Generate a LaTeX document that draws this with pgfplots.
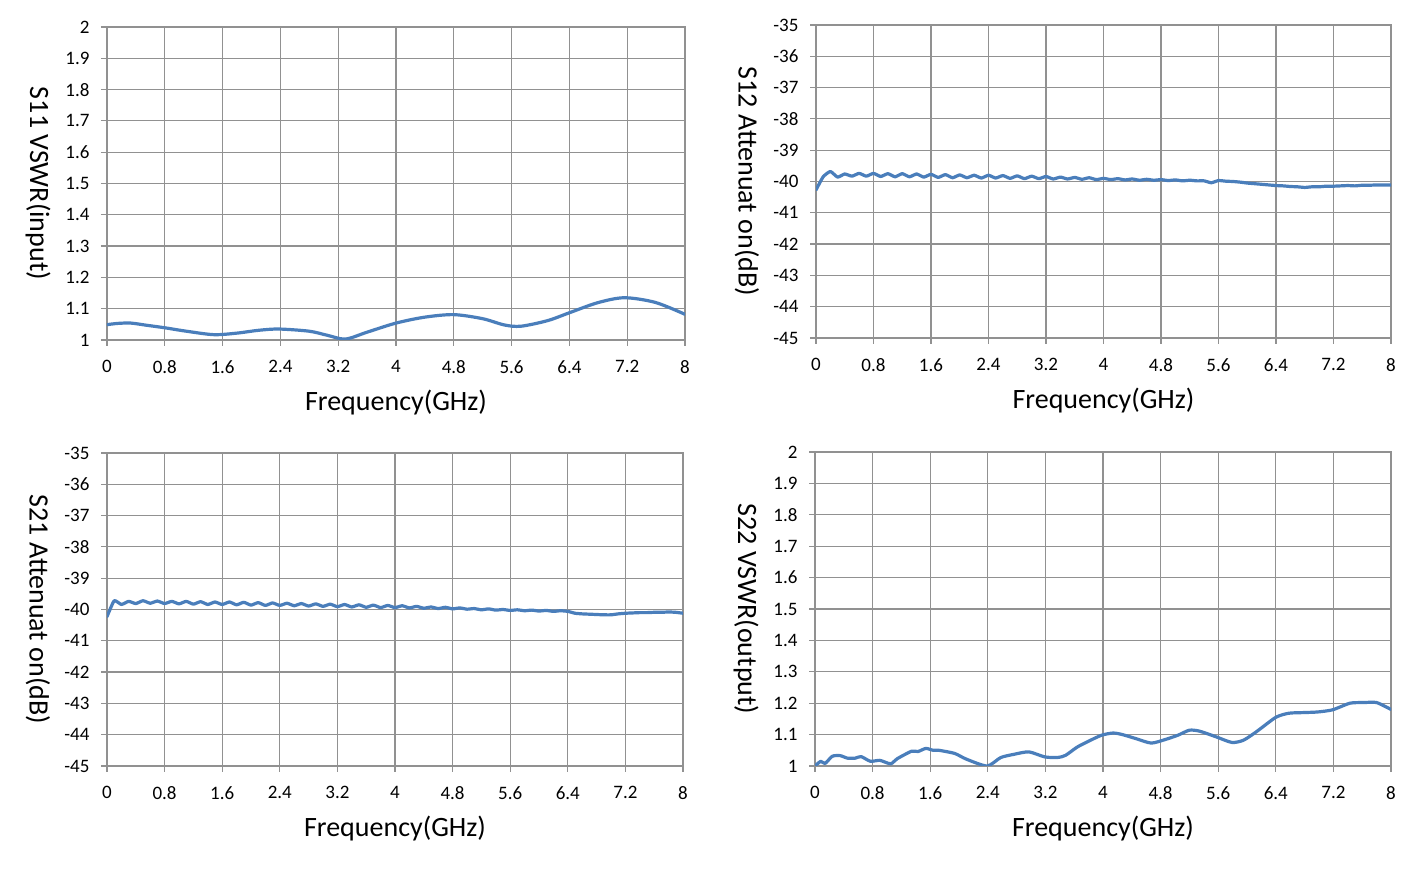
\documentclass[border=0pt]{standalone}
\usepackage{fontspec}
\setmainfont{Carlito}
\usepackage{pgfplots}
\pgfplotsset{compat=1.18}
\definecolor{ser}{RGB}{74,126,187}
\definecolor{gr}{RGB}{145,145,145}
\pgfplotsset{
  myax/.style={
    scale only axis,
    anchor=south west,
    xmin=0, xmax=8,
    xtick={0,0.8,1.6,2.4,3.2,4,4.8,5.6,6.4,7.2,8},
    xticklabels={0,0.8,1.6,2.4,3.2,4,4.8,5.6,6.4,7.2,8},
    grid=major,
    major grid style={gr, line width=1.2pt},
    axis line style={gr, line width=1.2pt},
    tick style={gr, line width=1.2pt},
    tick align=outside,
    major tick length=6pt,
    xtick pos=lower, ytick pos=left,
    ticklabel style={font=\fontsize{19}{20}\selectfont},
    xticklabel style={yshift=-11pt},
    yticklabel style={xshift=-8pt},
    every axis x label/.style={at={(axis description cs:0.5,0)}, anchor=center, yshift=-63pt, font=\fontsize{28}{30}\selectfont},
    every axis y label/.style={at={(axis description cs:0,0.5)}, anchor=center, xshift=-69pt, rotate=-90, font=\fontsize{28}{30}\selectfont},
    xlabel={Frequency(GHz)},
  },
  vswr/.style={ymin=1, ymax=2, ytick={1,1.1,1.2,1.3,1.4,1.5,1.6,1.7,1.8,1.9,2},
    yticklabels={1,1.1,1.2,1.3,1.4,1.5,1.6,1.7,1.8,1.9,2}},
  att/.style={ymin=-45, ymax=-35, ytick={-45,-44,-43,-42,-41,-40,-39,-38,-37,-36,-35},
    yticklabels={-45,-44,-43,-42,-41,-40,-39,-38,-37,-36,-35}},
  curve/.style={ser, line width=3.2pt, line join=round, line cap=round},
}
\begin{document}
\begin{tikzpicture}
\useasboundingbox (0,0) rectangle (1425pt,872pt);
% S11
\begin{axis}[myax, vswr, at={(107pt,532pt)}, width=578pt, height=313pt, ylabel={S11 VSWR(input)}]
\addplot[curve, smooth, tension=0.5] coordinates {
(0,1.049)(0.15,1.053)(0.33,1.054)(0.55,1.047)(0.8,1.039)(1.1,1.028)(1.48,1.017)(1.8,1.022)
(2.1,1.031)(2.38,1.035)(2.8,1.028)(3.05,1.015)(3.3,1.003)(3.6,1.025)(4.0,1.054)
(4.4,1.073)(4.8,1.081)(5.2,1.068)(5.5,1.048)(5.73,1.044)(6.1,1.062)(6.4,1.087)
(6.79,1.119)(7.16,1.135)(7.59,1.120)(8.0,1.082)};
\end{axis}
% S12
\begin{axis}[myax, att, at={(816pt,534pt)}, width=575pt, height=313pt, ylabel={S12 Attenuat on(dB)}]
\addplot[curve, smooth, tension=0.3] coordinates {
(0.0,-40.27)(0.1,-39.85)(0.2,-39.68)(0.3,-39.86)(0.4,-39.76)(0.5,-39.83)(0.6,-39.74)(0.7,-39.83)
(0.8,-39.74)(0.9,-39.84)(1.0,-39.75)(1.1,-39.85)(1.2,-39.75)(1.3,-39.85)(1.4,-39.76)(1.5,-39.86)
(1.6,-39.77)(1.7,-39.87)(1.8,-39.78)(1.9,-39.88)(2.0,-39.79)(2.1,-39.88)(2.2,-39.80)(2.3,-39.89)
(2.4,-39.80)(2.5,-39.89)(2.6,-39.81)(2.7,-39.90)(2.8,-39.82)(2.9,-39.91)(3.0,-39.83)(3.1,-39.91)
(3.2,-39.84)(3.3,-39.92)(3.4,-39.86)(3.5,-39.92)(3.6,-39.87)(3.7,-39.93)(3.8,-39.88)(3.9,-39.94)
(4.0,-39.90)(4.1,-39.94)(4.2,-39.91)(4.3,-39.95)(4.4,-39.92)(4.5,-39.96)(4.6,-39.93)(4.7,-39.96)
(4.8,-39.94)(4.9,-39.97)(5.0,-39.95)(5.1,-39.98)(5.2,-39.96)(5.3,-39.98)(5.4,-39.98)(5.5,-40.04)
(5.6,-39.97)(5.7,-39.99)(5.8,-40.00)(5.9,-40.02)(6.0,-40.05)(6.1,-40.07)(6.2,-40.09)(6.3,-40.11)
(6.4,-40.13)(6.5,-40.14)(6.6,-40.16)(6.7,-40.17)(6.8,-40.19)(6.9,-40.17)(7.0,-40.17)(7.1,-40.15)
(7.2,-40.15)(7.3,-40.14)(7.4,-40.13)(7.5,-40.14)(7.6,-40.12)(7.7,-40.12)(7.8,-40.11)(7.9,-40.11)
(8.0,-40.11)};
\end{axis}
% S21
\begin{axis}[myax, att, at={(107pt,106pt)}, width=576pt, height=313pt, ylabel={S21 Attenuat on(dB)}]
\addplot[curve, smooth, tension=0.3] coordinates {
(0.0,-40.23)(0.1,-39.72)(0.2,-39.84)(0.3,-39.74)(0.4,-39.81)(0.5,-39.72)(0.6,-39.80)(0.7,-39.73)
(0.8,-39.81)(0.9,-39.74)(1.0,-39.82)(1.1,-39.74)(1.2,-39.83)(1.3,-39.75)(1.4,-39.84)(1.5,-39.76)
(1.6,-39.84)(1.7,-39.76)(1.8,-39.85)(1.9,-39.77)(2.0,-39.86)(2.1,-39.78)(2.2,-39.87)(2.3,-39.79)
(2.4,-39.87)(2.5,-39.80)(2.6,-39.88)(2.7,-39.81)(2.8,-39.89)(2.9,-39.82)(3.0,-39.90)(3.1,-39.83)
(3.2,-39.91)(3.3,-39.84)(3.4,-39.92)(3.5,-39.85)(3.6,-39.93)(3.7,-39.86)(3.8,-39.94)(3.9,-39.87)
(4.0,-39.94)(4.1,-39.88)(4.2,-39.95)(4.3,-39.90)(4.4,-39.96)(4.5,-39.92)(4.6,-39.97)(4.7,-39.93)
(4.8,-39.98)(4.9,-39.95)(5.0,-39.99)(5.1,-39.97)(5.2,-40.01)(5.3,-39.98)(5.4,-40.02)(5.5,-40.00)
(5.6,-40.03)(5.7,-40.01)(5.8,-40.04)(5.9,-40.02)(6.0,-40.05)(6.1,-40.03)(6.2,-40.06)(6.3,-40.04)
(6.4,-40.06)(6.5,-40.12)(6.6,-40.14)(6.7,-40.15)(6.8,-40.16)(6.9,-40.17)(7.0,-40.17)(7.1,-40.14)
(7.2,-40.12)(7.3,-40.11)(7.4,-40.10)(7.5,-40.10)(7.6,-40.09)(7.7,-40.09)(7.8,-40.08)(7.9,-40.09)
(8.0,-40.12)};
\end{axis}
% S22
\begin{axis}[myax, vswr, at={(815pt,106pt)}, width=576pt, height=314pt, ylabel={S22 VSWR(output)}]
\addplot[curve, smooth, tension=0.4] coordinates {
(0,1.000)(0.08,1.015)(0.14,1.008)(0.24,1.031)(0.35,1.033)(0.45,1.025)(0.56,1.025)(0.64,1.030)
(0.77,1.015)(0.90,1.018)(1.05,1.007)(1.14,1.023)(1.34,1.047)(1.43,1.046)(1.54,1.056)(1.64,1.050)
(1.72,1.050)(1.94,1.040)(2.10,1.022)(2.39,1.000)(2.58,1.027)(2.76,1.037)(2.97,1.045)(3.19,1.029)
(3.37,1.027)(3.48,1.034)(3.64,1.060)(3.80,1.079)(3.98,1.098)(4.14,1.105)(4.27,1.100)(4.46,1.087)
(4.67,1.073)(4.86,1.084)(5.04,1.098)(5.20,1.114)(5.34,1.111)(5.57,1.093)(5.79,1.075)(5.95,1.082)
(6.13,1.109)(6.40,1.155)(6.58,1.168)(6.77,1.170)(6.98,1.172)(7.19,1.179)(7.43,1.200)(7.62,1.202)
(7.80,1.202)(8.0,1.180)};
\end{axis}
\end{tikzpicture}
\end{document}
